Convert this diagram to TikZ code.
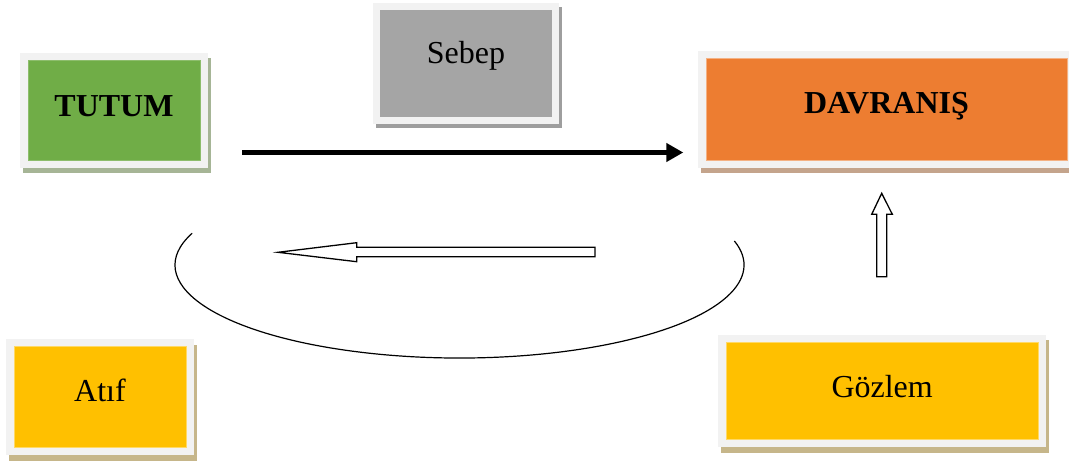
\documentclass[tikz,border=0pt]{standalone}
\usepackage{fontspec}
\setmainfont{Liberation Serif}
\usetikzlibrary{shadows,arrows.meta}
\definecolor{framegray}{HTML}{F2F2F2}
\definecolor{cgreen}{HTML}{70AD47}
\definecolor{cgrey}{HTML}{A5A5A5}
\definecolor{corange}{HTML}{ED7D31}
\definecolor{cyellow}{HTML}{FFC000}
\definecolor{shgreen}{HTML}{A6B596}
\definecolor{shgrey}{HTML}{9E9E9E}
\definecolor{shorange}{HTML}{C4A48C}
\definecolor{shyellow}{HTML}{C6B68A}
\tikzset{
  frame/.style={rectangle, fill=framegray, draw=none, inner sep=0pt},
  inner/.style={rectangle, inner sep=0pt, font=\fontsize{32}{38}\selectfont, text height=21pt, align=center},
  blockarrow/.style={draw=black, fill=white, line width=1.3pt, line join=miter},
}
\begin{document}
\begin{tikzpicture}[x=1pt,y=1pt]
\useasboundingbox (0,0) rectangle (1069,-463);
\begin{scope}
\clip (0,0) rectangle (1069,-463);
% TUTUM
\node[frame, minimum width=188pt, minimum height=115.3pt,
  drop shadow={shadow xshift=3pt,shadow yshift=-5pt,fill=shgreen,opacity=1}]
  (tutumF) at (114,-110.35) {};
\node[inner, fill=cgreen, draw=cgreen!80!white, line width=0.5pt, minimum width=172pt, minimum height=100pt,
  text depth=8.8pt, font=\fontsize{32}{38}\selectfont\bfseries] (tutum) at (114,-110) {TUTUM};
% Sebep
\node[frame, minimum width=186.3pt, minimum height=121.3pt,
  drop shadow={shadow xshift=3pt,shadow yshift=-4pt,fill=shgrey,opacity=1}]
  (sebepF) at (465.85,-63.35) {};
\node[inner, fill=cgrey, minimum width=172pt, minimum height=106.7pt,
  text depth=20.4pt] (sebep) at (466,-63.35) {Sebep};
% DAVRANIS
\node[frame, minimum width=377pt, minimum height=117.3pt,
  drop shadow={shadow xshift=3pt,shadow yshift=-5pt,fill=shorange,opacity=1}]
  (davF) at (886.5,-109.35) {};
\node[inner, fill=corange, draw=corange!60!white, line width=0.6pt, minimum width=361pt, minimum height=102pt,
  text depth=11.8pt, font=\fontsize{32}{38}\selectfont\bfseries] (davranis) at (886.5,-109) {DAVRANIŞ};
% Atif
\node[frame, minimum width=188pt, minimum height=115.7pt,
  drop shadow={shadow xshift=2.7pt,shadow yshift=-5.7pt,fill=shyellow,opacity=1}]
  (atifF) at (100,-397.15) {};
\node[inner, fill=cyellow, draw=cyellow!60!white, line width=0.5pt, minimum width=172pt, minimum height=100.6pt,
  text depth=11.8pt] (atif) at (100,-397) {Atıf};
% Gozlem
\node[frame, minimum width=327.7pt, minimum height=112.3pt,
  drop shadow={shadow xshift=3pt,shadow yshift=-5.4pt,fill=shyellow,opacity=1}]
  (gozlemF) at (882.15,-391.15) {};
\node[inner, fill=cyellow, draw=cyellow!60!white, line width=0.5pt, minimum width=312.3pt, minimum height=96.3pt,
  text depth=7.5pt] (gozlem) at (882.15,-390.85) {Gözlem};
\end{scope}
% main thick arrow
\coordinate (a1) at (242,-152.5);
\coordinate (a2) at (683.3,-152.5);
\draw[line width=4.5pt, -{Triangle[length=17pt,width=18pt]}] (a1) -- (a2);
% ellipse arc
\draw[line width=1.2pt] (192.2,-233.2) arc[start angle=160, end angle=375, x radius=284.5pt, y radius=93pt];
% left block arrow
\draw[blockarrow] (595,-247.3) -- (356.7,-247.3) -- (356.7,-242.7) -- (278,-252.3)
  -- (356.7,-261.7) -- (356.7,-256.7) -- (595,-256.7) -- cycle;
% up block arrow
\draw[blockarrow] (876.7,-276.7) -- (876.7,-214.3) -- (871.7,-214.3) -- (881.7,-193.3)
  -- (892.3,-214.3) -- (886.7,-214.3) -- (886.7,-276.7) -- cycle;
\end{tikzpicture}
\end{document}
